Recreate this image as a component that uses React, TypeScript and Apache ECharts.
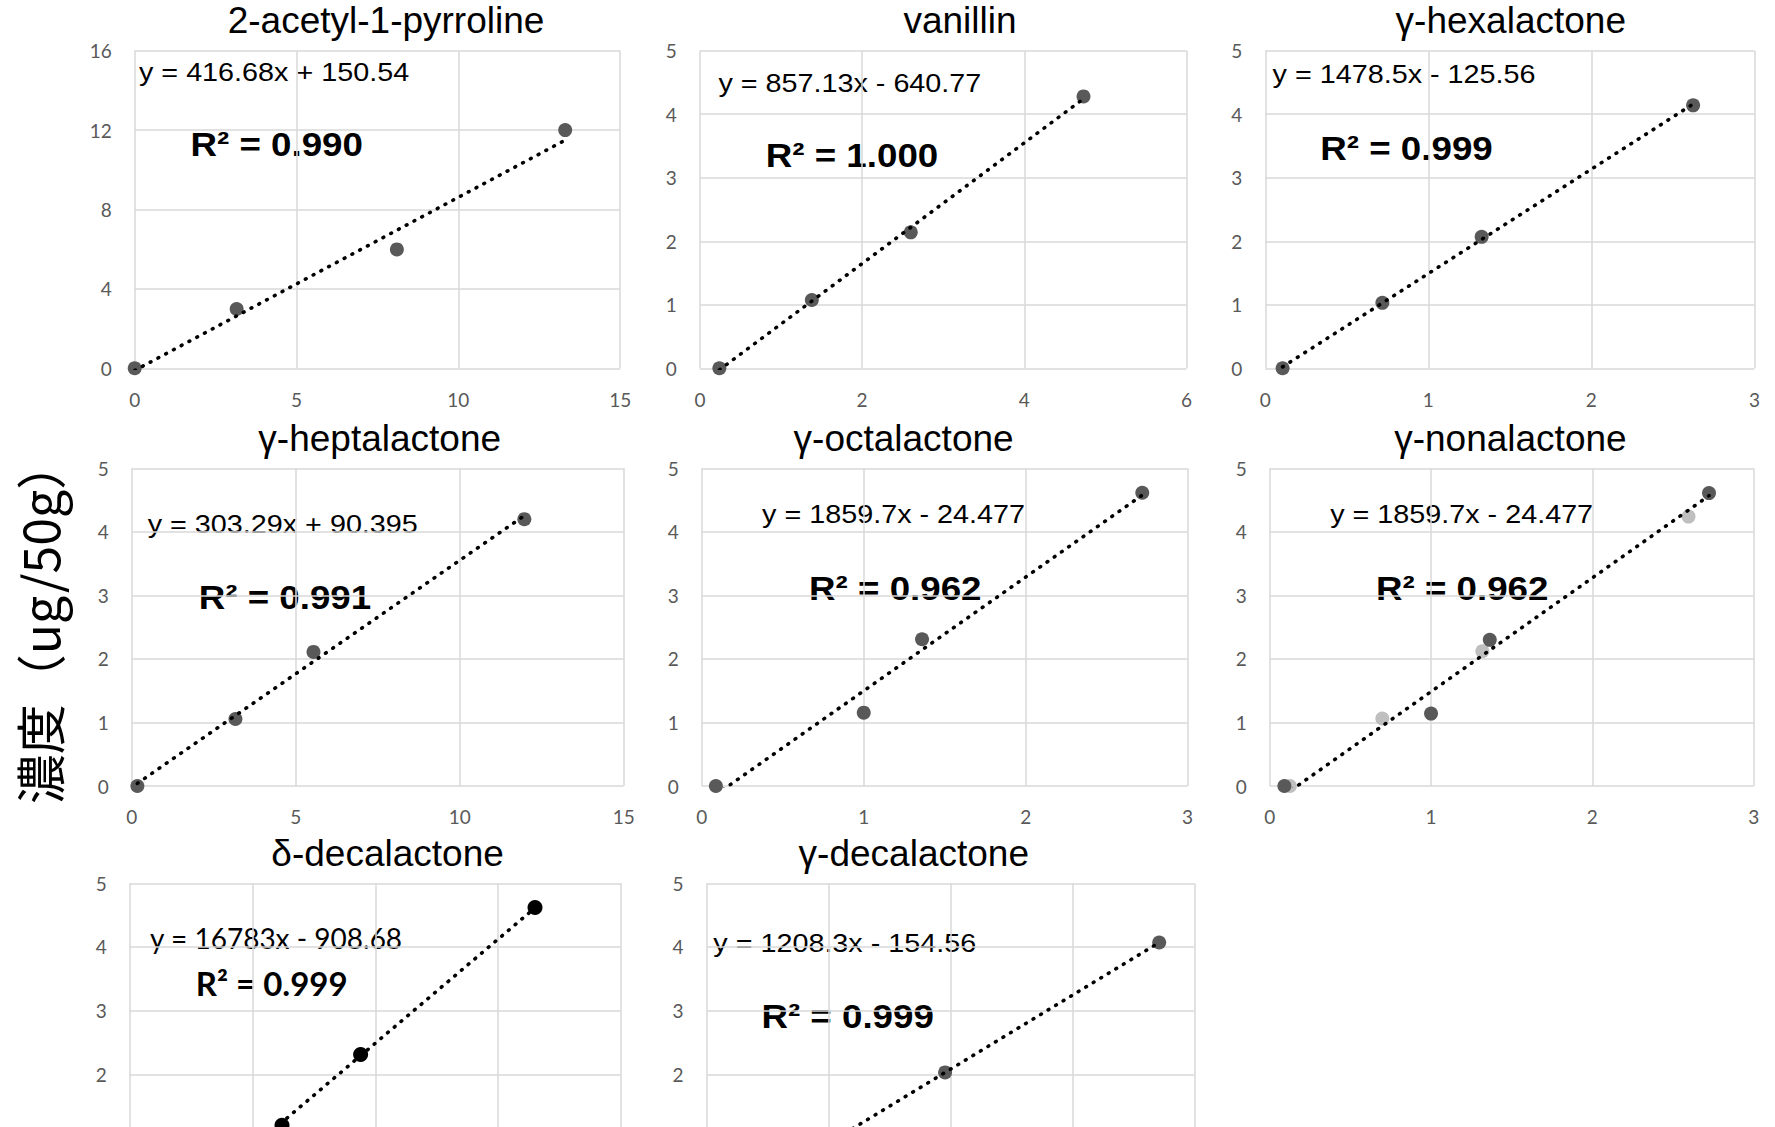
import React, { useEffect, useRef } from "react";
import * as echarts from "echarts";

// ---------------- data ----------------
const titles = [
  "2-acetyl-1-pyrroline",
  "vanillin",
  "γ-hexalactone",
  "γ-heptalactone",
  "γ-octalactone",
  "γ-nonalactone",
  "δ-decalactone",
  "γ-decalactone",
];
const equations = [
  "y = 416.68x + 150.54",
  "y = 857.13x - 640.77",
  "y = 1478.5x - 125.56",
  "y = 303.29x + 90.395",
  "y = 1859.7x - 24.477",
  "y = 1859.7x - 24.477",
  "y = 16783x - 908.68",
  "y = 1208.3x - 154.56",
];
const r2Labels = [
  "R² = 0.990",
  "R² = 1.000",
  "R² = 0.999",
  "R² = 0.991",
  "R² = 0.962",
  "R² = 0.962",
  "R² = 0.999",
  "R² = 0.999",
];
const yAxisName = "濃度（ug/50g）";

const pyrrolineX = [0, 3.15, 8.1, 13.3];
const pyrrolineY = [0, 2.99, 5.99, 12.0];
const vanillinX = [0.24, 1.38, 2.6, 4.73];
const vanillinY = [0, 1.075, 2.14, 4.28];
const hexaX = [0.106, 0.718, 1.327, 2.624];
const hexaY = [0, 1.03, 2.07, 4.14];
const heptaX = [0.17, 3.16, 5.54, 11.97];
const heptaY = [0, 1.054, 2.11, 4.2];
const octaX = [0.087, 1.0, 1.36, 2.72];
const octaY = [0, 1.154, 2.31, 4.616];
const nonaX = [0.091, 1.0, 1.364, 2.723];
const nonaY = [0, 1.14, 2.3, 4.61];
const nonaLightX = [0.125, 0.698, 1.318, 2.596];
const nonaLightY = [0, 1.063, 2.12, 4.24];
const deltaDecaX = [0.046, 0.124, 0.188, 0.33];
const deltaDecaY = [0, 1.2, 2.31, 4.62];
const gammaDecaX = [0.21, 1.07, 1.956, 3.712];
const gammaDecaY = [0, 1.0, 2.03, 4.07];

const seriesX = [pyrrolineX, vanillinX, hexaX, heptaX, octaX, nonaX, deltaDecaX, gammaDecaX];
const seriesY = [pyrrolineY, vanillinY, hexaY, heptaY, octaY, nonaY, deltaDecaY, gammaDecaY];

const xMax = [15, 6, 3, 15, 3, 3, 0.4, 4];
const xStep = [5, 2, 1, 5, 1, 1, 0.1, 1];
const yMax = [16, 5, 5, 5, 5, 5, 5, 5];
const yStep = [4, 1, 1, 1, 1, 1, 1, 1];

// ---------------- layout ----------------
const grids = [
  { left: 134.7, top: 50.7, width: 485.5, height: 317.6 },
  { left: 699.9, top: 50.7, width: 486.6, height: 317.6 },
  { left: 1265.3, top: 50.7, width: 489.1, height: 317.6 },
  { left: 131.8, top: 468.3, width: 491.9, height: 317.7 },
  { left: 701.8, top: 468.3, width: 485.8, height: 317.7 },
  { left: 1269.7, top: 468.3, width: 484, height: 317.7 },
  { left: 129.7, top: 883.3, width: 491.3, height: 318.4 },
  { left: 706.6, top: 883.3, width: 487.7, height: 318.4 },
];
const titlePos = [
  [386, 20.5], [960, 20.5], [1510.8, 20.5],
  [379.7, 438.5], [903.6, 438.5], [1510.4, 438.5],
  [387.6, 853.5], [913.8, 853.5],
];
const eqPos = [
  [139, 73], [718.4, 83.3], [1272.6, 75],
  [147.7, 524.2], [762.1, 515], [1330.2, 515],
  [150.1, 938.3], [713.3, 943.3],
];
const r2Pos = [
  [190.5, 143.5], [765.8, 155], [1320.3, 147.5],
  [198.7, 596.7], [809.1, 587.5], [1376, 587.5],
  [195.8, 983.3], [761.4, 1015.8],
];

function linearFit(xs: number[], ys: number[]) {
  const n = xs.length;
  const mx = xs.reduce((a, b) => a + b, 0) / n;
  const my = ys.reduce((a, b) => a + b, 0) / n;
  let sxx = 0, sxy = 0;
  for (let i = 0; i < n; i++) {
    sxx += (xs[i] - mx) ** 2;
    sxy += (xs[i] - mx) * (ys[i] - my);
  }
  const a = sxy / sxx;
  return [a, my - a * mx];
}

function buildOption() {
  const xAxis: any[] = [];
  const yAxis: any[] = [];
  const series: any[] = [];
  const graphic: any[] = [];
  const gridColor = "#d9d9d9";
  const labelColor = "#595959";
  const tickFont = "Lato";

  for (let i = 0; i < 8; i++) {
    const bottomRow = i >= 6;
    xAxis.push({
      type: "value",
      gridIndex: i,
      min: 0,
      max: xMax[i],
      interval: xStep[i],
      axisLine: { show: false },
      axisTick: { show: false },
      splitLine: { show: true, lineStyle: { color: gridColor, width: 1.5 } },
      axisLabel: {
        show: !bottomRow,
        color: labelColor,
        fontFamily: tickFont,
        fontSize: 19,
        margin: i < 3 ? 22 : 21,
      },
    });
    yAxis.push({
      type: "value",
      gridIndex: i,
      min: 0,
      max: yMax[i],
      interval: yStep[i],
      axisLine: { show: false },
      axisTick: { show: false },
      splitLine: { show: true, lineStyle: { color: gridColor, width: 1.5 } },
      axisLabel: {
        color: labelColor,
        fontFamily: tickFont,
        fontSize: 19,
        margin: 23,
        formatter: (v: number) => (bottomRow && v < 2 ? "" : String(v)),
      },
    });

    const xs = seriesX[i];
    const ys = seriesY[i];
    const pts = xs.map((x, k) => [x, ys[k]]);
    const markerColor = i === 6 ? "#000000" : "#595959";

    if (i === 5) {
      series.push({
        type: "scatter",
        xAxisIndex: i,
        yAxisIndex: i,
        data: nonaLightX.map((x, k) => [x, nonaLightY[k]]),
        symbolSize: 14,
        itemStyle: { color: "#bfbfbf", opacity: 1 },
        clip: false,
        z: 2,
        silent: true,
      });
    }
    series.push({
      type: "scatter",
      xAxisIndex: i,
      yAxisIndex: i,
      data: pts,
      symbolSize: i === 6 ? 15 : 14,
      itemStyle: { color: markerColor, opacity: 1 },
      clip: false,
      z: 2,
      silent: true,
    });

    const [a, b] = linearFit(xs, ys);
    const x0 = Math.min(...xs);
    const x1 = Math.max(...xs);
    series.push({
      type: "line",
      xAxisIndex: i,
      yAxisIndex: i,
      data: [
        [x0, a * x0 + b],
        [x1, a * x1 + b],
      ],
      symbol: "none",
      showSymbol: false,
      clip: true,
      z: 3,
      silent: true,
      lineStyle: { color: "#000000", width: 3.6, type: [0.8, 8], cap: "round" },
    });

    graphic.push({
      type: "text",
      x: titlePos[i][0],
      y: titlePos[i][1],
      style: {
        text: titles[i],
        align: "center",
        verticalAlign: "middle",
        fontFamily: "Liberation Sans",
        fontSize: 37,
        fill: "#000000",
      },
    });

    const calibriLike = i === 6;
    graphic.push({
      type: "text",
      x: eqPos[i][0],
      y: eqPos[i][1],
      scaleX: calibriLike ? 1 : 1.15,
      style: {
        text: equations[i],
        x: 0,
        y: 0,
        align: "left",
        verticalAlign: "middle",
        fontFamily: calibriLike ? "Lato" : "Liberation Sans",
        fontSize: calibriLike ? 28 : 25,
        fill: "#000000",
      },
    });
    graphic.push({
      type: "text",
      x: r2Pos[i][0],
      y: r2Pos[i][1],
      scaleX: calibriLike ? 1 : 1.08,
      style: {
        text: r2Labels[i],
        x: 0,
        y: 0,
        align: "left",
        verticalAlign: "middle",
        fontFamily: calibriLike ? "Lato" : "Liberation Sans",
        fontWeight: "bold",
        fontSize: calibriLike ? 33 : 34,
        fill: "#000000",
      },
    });
  }

  graphic.push({
    type: "text",
    x: 38.3,
    y: 622,
    rotation: Math.PI / 2,
    style: {
      text: yAxisName,
      align: "center",
      verticalAlign: "middle",
      fontFamily: "Noto Sans CJK JP",
      fontSize: 50,
      fill: "#000000",
    },
  });

  return {
    animation: false,
    backgroundColor: "#ffffff",
    grid: grids.map((g) => ({ ...g, containLabel: false, outerBoundsMode: "none" })),
    xAxis,
    yAxis,
    series,
    graphic,
  };
}

export default function App() {
  const ref = useRef<HTMLDivElement>(null);
  useEffect(() => {
    if (!ref.current) return;
    const chart = echarts.init(ref.current, null, { renderer: "svg" });
    chart.setOption(buildOption() as any);
    return () => chart.dispose();
  }, []);
  return (
    <div
      ref={ref}
      style={{ position: "absolute", left: 0, top: 0, width: 1775, height: 1127, background: "#ffffff" }}
    />
  );
}
